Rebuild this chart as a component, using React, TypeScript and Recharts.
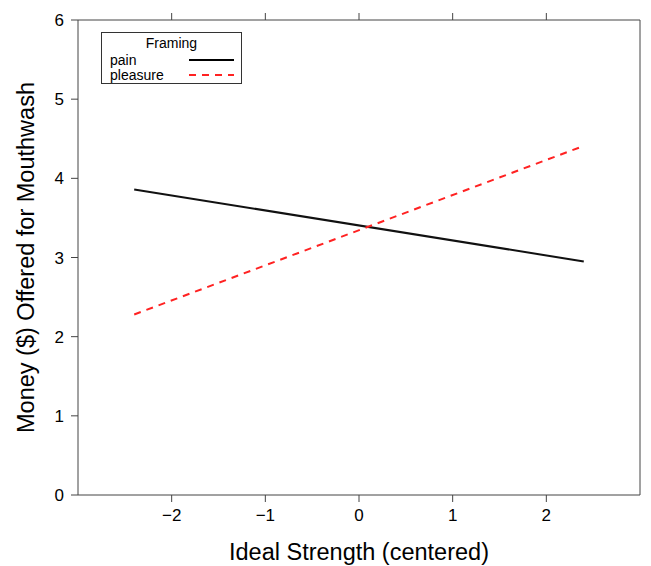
import { LineChart, Line, XAxis, YAxis } from "recharts";

const xEnds = [-2.4, 2.4];
const painValues = [3.86, 2.95];
const pleasureValues = [2.28, 4.41];
const xTicks = [-2, -1, 0, 1, 2];
const yTicks = [0, 1, 2, 3, 4, 5, 6];

const painData = xEnds.map((x, i) => ({ x, y: painValues[i] }));
const pleasureData = xEnds.map((x, i) => ({ x, y: pleasureValues[i] }));

const FONT = "'Liberation Sans', Arial, Helvetica, sans-serif";
const AXIS = "#444";

const fmt = (v: number) => String(v).replace("-", "\u2212");
const blank = () => "";

function FramingLegend() {
  return (
    <div
      style={{
        position: "absolute",
        left: 101,
        top: 32,
        width: 141,
        height: 52,
        border: "1px solid #333",
        background: "#fff",
        fontFamily: FONT,
        fontSize: 14,
        lineHeight: "14px",
        color: "#000",
        boxSizing: "border-box",
      }}
    >
      <div style={{ position: "absolute", top: 3, left: 0, width: 139, textAlign: "center" }}>
        Framing
      </div>
      <div style={{ position: "absolute", top: 20, left: 8 }}>pain</div>
      <div style={{ position: "absolute", top: 35, left: 8 }}>pleasure</div>
      <svg width={139} height={50} style={{ position: "absolute", left: 0, top: 0 }}>
        <line x1={87} x2={132} y1={27} y2={27} stroke="#000" strokeWidth={2} />
        <line x1={87} x2={132} y1={42} y2={42} stroke="#f22" strokeWidth={2} strokeDasharray="7 6" />
      </svg>
    </div>
  );
}

export default function App() {
  return (
    <div style={{ position: "absolute", left: 0, top: 0, width: 651, height: 566, background: "#fff" }}>
      <LineChart
        width={651}
        height={566}
        margin={{ top: 0, right: 0, bottom: 0, left: 0 }}
        style={{ fontFamily: FONT }}
      >
        <XAxis
          xAxisId="bottom"
          dataKey="x"
          type="number"
          domain={[-3, 3]}
          ticks={xTicks}
          allowDataOverflow
          height={71}
          tickSize={7}
          tickMargin={7}
          tickFormatter={fmt}
          stroke={AXIS}
          tick={{ fill: "#000", fontSize: 17 }}
          label={{
            value: "Ideal Strength (centered)",
            position: "insideBottom",
            offset: 6,
            fill: "#000",
            fontSize: 23.5,
          }}
        />
        <XAxis
          xAxisId="top"
          orientation="top"
          dataKey="x"
          type="number"
          domain={[-3, 3]}
          ticks={xTicks}
          allowDataOverflow
          height={20}
          tickSize={7}
          tickFormatter={blank}
          stroke={AXIS}
        />
        <YAxis
          yAxisId="left"
          type="number"
          domain={[0, 6]}
          ticks={yTicks}
          width={78}
          tickSize={7}
          tickMargin={7}
          stroke={AXIS}
          tick={{ fill: "#000", fontSize: 17 }}
          label={{
            value: "Money ($) Offered for Mouthwash",
            angle: -90,
            position: "insideLeft",
            offset: 26,
            style: { textAnchor: "middle" },
            fill: "#000",
            fontSize: 23.5,
          }}
        />
        <YAxis
          yAxisId="right"
          orientation="right"
          type="number"
          domain={[0, 6]}
          ticks={[1, 2, 3, 4, 5]}
          width={11}
          tickSize={7}
          tickFormatter={blank}
          stroke={AXIS}
        />
        <Line
          xAxisId="bottom"
          yAxisId="left"
          data={painData}
          dataKey="y"
          name="pain"
          type="linear"
          stroke="#111"
          strokeWidth={2}
          dot={false}
          isAnimationActive={false}
        />
        <Line
          xAxisId="bottom"
          yAxisId="left"
          data={pleasureData}
          dataKey="y"
          name="pleasure"
          type="linear"
          stroke="#f22"
          strokeWidth={2}
          strokeDasharray="7 6"
          dot={false}
          isAnimationActive={false}
        />
      </LineChart>
      <FramingLegend />
    </div>
  );
}
